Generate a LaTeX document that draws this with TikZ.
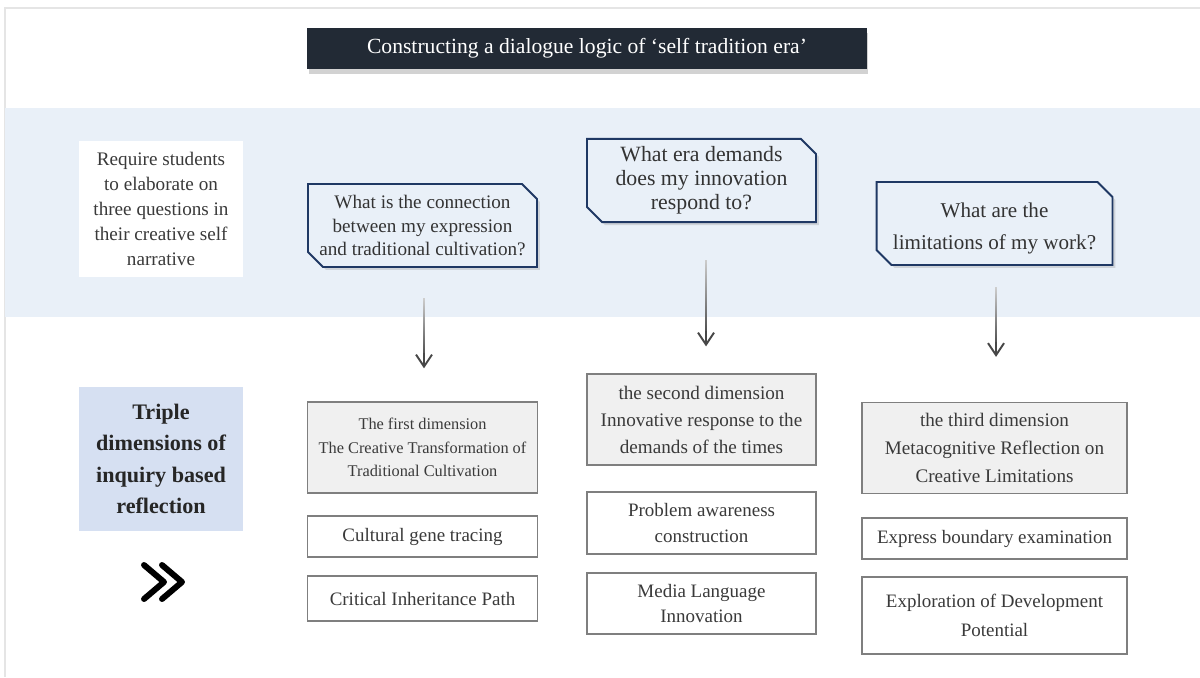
\documentclass[tikz,border=0pt]{standalone}
\usepackage{fontspec}
\setmainfont{Liberation Serif}
\usetikzlibrary{arrows.meta, shapes.misc, shadows}

\definecolor{bandblue}{HTML}{E9F0F8}
\definecolor{navy}{HTML}{1F3864}
\definecolor{titlebg}{HTML}{222A35}
\definecolor{tripleblue}{HTML}{D6E0F2}
\definecolor{dimfill}{HTML}{F0F0F0}
\definecolor{inkgray}{HTML}{3A3A3A}
\definecolor{edgegray}{HTML}{7F7F7F}

\begin{document}
\begin{tikzpicture}[x=0.02cm, y=-0.02cm,
    every node/.style={text=inkgray, align=center, inner sep=0pt},
    titlebox/.style={fill=titlebg, text=white, minimum width=11.2cm, minimum height=0.82cm,
        font=\fontsize{12.3}{15}\selectfont,
        drop shadow={shadow xshift=0.3mm, shadow yshift=-1mm, opacity=0.22, fill=black!80}},
    askbox/.style={chamfered rectangle, chamfered rectangle corners={north east, south west},
        chamfered rectangle xsep=0.15cm, chamfered rectangle ysep=0.15cm,
        draw=navy, line width=1.1pt, fill=bandblue, text=black!80, minimum height=1.66cm,
        drop shadow={shadow xshift=0.6mm, shadow yshift=-0.6mm, opacity=0.25}},
    dimbox/.style={draw=edgegray, line width=0.75pt, fill=dimfill, minimum height=1.82cm},
    itembox/.style={draw=edgegray, line width=0.75pt, fill=white, font=\fontsize{10.8}{14.5}\selectfont},
    tiparrow/.style={draw=black!72, line width=1.1pt,
        -{Straight Barb[length=2.4mm, width=3.2mm, line width=1.1pt]}}]
% Define fading arrows
\def\flowarrow#1#2#3#4#5{
    % #1 = question, #2 = dimension, #3 = gap below question, #4 = gap above dimension, #5 = x offset
    \shade[top color=black!20, bottom color=black!72]
        ([xshift=#5-0.55pt, yshift=-#3]#1.south) rectangle ([xshift=#5+0.55pt, yshift=#4+0.2cm]#2.north);
    \draw[tiparrow] ([xshift=#5, yshift=#4+0.3cm]#2.north) -- ([xshift=#5, yshift=#4]#2.north);
}
\useasboundingbox (0,0) rectangle (1200,677);
\fill[white] (0,0) rectangle (1200,677);

% Page frame and band
\draw[black!10, line width=1pt] (5,677) -- (5,8) -- (1200,8);
\fill[bandblue] (5,108) rectangle (1200,317);

% Header
\node[titlebox] (title) at (587,48.5) {Constructing a dialogue logic of ‘self tradition era’};

% Left column
\node[fill=white, minimum width=3.28cm, minimum height=2.72cm, font=\fontsize{10.9}{14.2}\selectfont]
    (require) at (161,209) {Require students\\to elaborate on\\three questions in\\their creative self\\narrative};
\node[fill=tripleblue, minimum width=3.28cm, minimum height=2.88cm, text=black!85,
    font=\fontsize{12.6}{17.9}\selectfont\bfseries]
    (triple) at (161,459) {Triple\\dimensions of\\inquiry based\\reflection};
\draw[black, line width=3.4pt, line cap=round, line join=round] (144,565) -- (164,582) -- (144,599);
\draw[black, line width=3.4pt, line cap=round, line join=round] (162,565) -- (182,582) -- (162,599);

% Questions
\node[askbox, minimum width=4.58cm, font=\fontsize{10.9}{13.4}\selectfont]
    (ask1) at (422.5,225.5) {What is the connection\\between my expression\\and traditional cultivation?};
\node[askbox, minimum width=4.58cm, font=\fontsize{12.4}{13.8}\selectfont]
    (ask2) at (701.5,180.5) {What era demands\\does my innovation\\respond to?};
\node[askbox, minimum width=4.72cm, font=\fontsize{12}{18.7}\selectfont]
    (ask3) at (994.5,223.5) {\rule{0pt}{14pt}What are the\\limitations of my work?};

% Dimensions
\node[dimbox, minimum width=4.6cm, font=\fontsize{9.3}{13.3}\selectfont]
    (dim1) at (422.5,447.5) {The first dimension\\The Creative Transformation of\\Traditional Cultivation};
\node[dimbox, minimum width=4.58cm, font=\fontsize{10.9}{15.4}\selectfont]
    (dim2) at (701.5,419.5) {the second dimension\\Innovative response to the\\demands of the times};
\node[dimbox, minimum width=5.3cm, font=\fontsize{10.9}{15.9}\selectfont]
    (dim3) at (994.5,448) {the third dimension\\Metacognitive Reflection on\\Creative Limitations};

% Items
\node[itembox, minimum width=4.6cm, minimum height=0.82cm] (gene) at (422.5,536.5) {Cultural gene tracing};
\node[itembox, minimum width=4.6cm, minimum height=0.9cm] (path) at (422.5,598.5) {Critical Inheritance Path};
\node[itembox, minimum width=4.58cm, minimum height=1.24cm] (problem) at (701.5,523) {Problem awareness\\construction};
\node[itembox, minimum width=4.58cm, minimum height=1.22cm] (media) at (701.5,603.5) {Media Language\\Innovation};
\node[itembox, minimum width=5.3cm, minimum height=0.82cm] (boundary) at (994.5,538.5) {Express boundary examination};
\node[itembox, minimum width=5.3cm, minimum height=1.54cm, font=\fontsize{10.8}{16.4}\selectfont]
    (potential) at (994.5,615.5) {Exploration of Development\\Potential};

% Arrows
\flowarrow{ask1}{dim1}{0.62cm}{0.66cm}{0.03cm}
\flowarrow{ask2}{dim2}{0.74cm}{0.54cm}{0.09cm}
\flowarrow{ask3}{dim3}{0.44cm}{0.9cm}{0.03cm}
\end{tikzpicture}
\end{document}
